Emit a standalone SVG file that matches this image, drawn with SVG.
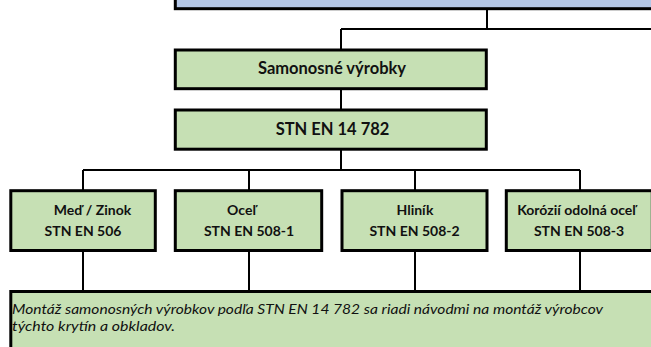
<svg xmlns="http://www.w3.org/2000/svg" width="651" height="347" viewBox="0 0 651 347">
<style>
.box{fill:#C6E0B4;stroke:#000;stroke-width:3}
.blue{fill:#B4C7E7;stroke:#000;stroke-width:3}
.ln{stroke:#000;stroke-width:2;fill:none}
.t1{font-family:Lato,"Liberation Sans",sans-serif;font-weight:bold;font-size:16.5px;fill:#111;text-anchor:middle}
.t2{font-family:Lato,"Liberation Sans",sans-serif;font-weight:bold;font-size:14px;fill:#111;text-anchor:middle}
.t3{font-family:Lato,"Liberation Sans",sans-serif;font-style:italic;font-size:14px;fill:#111}
</style>
<rect width="651" height="347" fill="#fff"/>
<g id="connectors">
<path class="ln" d="M487,10V29M341,29H652M341,29V49"/>
<path class="ln" d="M341,90V109"/>
<path class="ln" d="M341,150V170M83,170H580M83,170V190M249,170V190M415,170V190M580,170V190"/>
<path class="ln" d="M83,252V290M249,252V290M415,252V290M580,252V290"/>
</g>
<g id="top"><rect class="blue" x="175.3" y="-20" width="500" height="28.7"/></g>
<g id="samonosne"><rect class="box" x="175.3" y="50" width="311" height="38.7"/><text class="t1" x="332" y="74">Samonosné výrobky</text></g>
<g id="stn14782"><rect class="box" x="175.3" y="110" width="311" height="39.2"/><text class="t1" x="332.5" y="135">STN EN 14 782</text></g>
<g id="med"><rect class="box" x="10.8" y="190.7" width="144.5" height="59.8"/><text class="t2" x="92.5" y="215">Meď / Zinok</text><text class="t2" x="83" y="236">STN EN 506</text></g>
<g id="ocel"><rect class="box" x="175.3" y="190.7" width="146.4" height="59.8"/><text class="t2" x="241.5" y="215">Oceľ</text><text class="t2" x="249" y="236">STN EN 508-1</text></g>
<g id="hlinik"><rect class="box" x="342" y="190.7" width="145" height="59.8"/><text class="t2" x="415" y="215">Hliník</text><text class="t2" x="414.5" y="236">STN EN 508-2</text></g>
<g id="korozii"><rect class="box" x="506.3" y="190.7" width="146" height="59.8"/><text class="t2" x="576.5" y="215">Korózií odolná oceľ</text><text class="t2" x="579" y="236">STN EN 508-3</text></g>
<g id="note"><rect class="box" x="10.8" y="291.5" width="700" height="100"/>
<text class="t3" x="12" y="314" textLength="591" lengthAdjust="spacingAndGlyphs">Montáž samonosných výrobkov podľa STN EN 14 782 sa riadi návodmi na montáž výrobcov</text>
<text class="t3" x="12" y="331" textLength="163" lengthAdjust="spacingAndGlyphs">týchto krytín a obkladov.</text></g>
</svg>
